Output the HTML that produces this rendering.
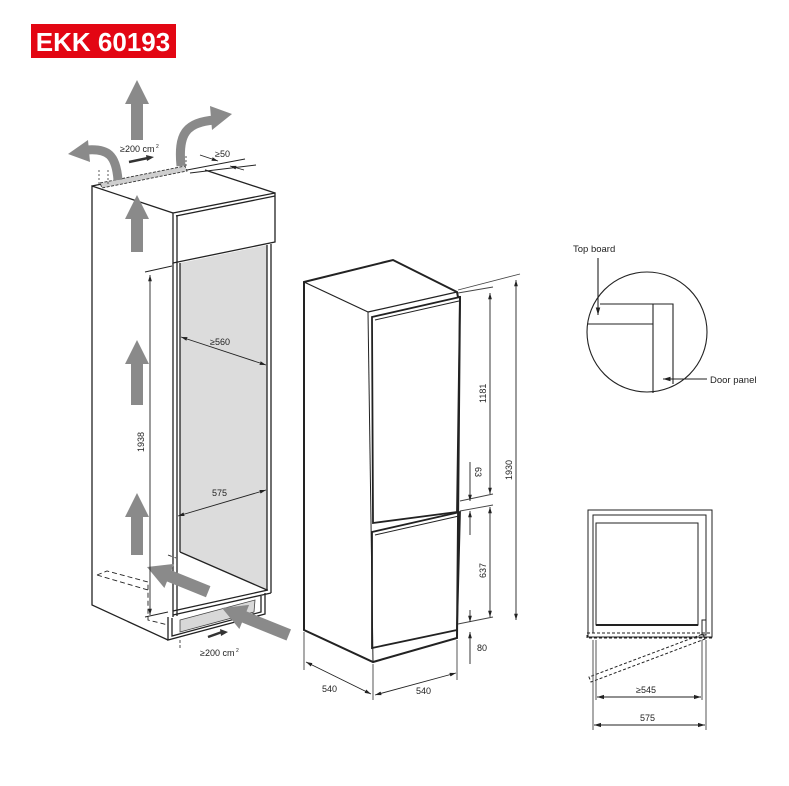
<!DOCTYPE html>
<html><head><meta charset="utf-8"><style>
html,body{margin:0;padding:0;background:#fff;}
svg{display:block;}
text{font-family:"Liberation Sans",sans-serif;}
</style></head><body>
<svg width="789" height="786" viewBox="0 0 789 786" xmlns="http://www.w3.org/2000/svg">
<defs>
<marker id="ah" viewBox="0 0 10 10" refX="10" refY="5" markerWidth="7" markerHeight="7" orient="auto-start-reverse"><path d="M0,2 L10,5 L0,8 z" fill="#222"/></marker>
</defs>
<rect x="31" y="24" width="145" height="34" fill="#e30613"/>
<text x="103" y="51" font-size="26" font-weight="bold" fill="#fff" text-anchor="middle">EKK 60193</text>

<g stroke="#222" stroke-width="1.3" fill="none">
<polygon points="180,263 267,245 267,590 180,552" fill="#dcdcdc" stroke="none"/>
<polyline points="173,213 92,186 92,605 168,640"/>
<polyline points="92,186 180,168"/>
<polyline points="205,170 275,193"/>
<polygon points="173,213 275,193 275,242 173,263" fill="#fff"/>
<line x1="177" y1="215" x2="177" y2="263"/>
<line x1="176" y1="216" x2="275" y2="196"/>
<line x1="173" y1="263" x2="173" y2="617"/>
<line x1="177" y1="263" x2="177" y2="616"/>
<line x1="180" y1="263" x2="180" y2="552"/>
<line x1="267" y1="245" x2="267" y2="590"/>
<line x1="271" y1="244" x2="271" y2="593"/>
<line x1="180" y1="552" x2="267" y2="590"/>
<line x1="173" y1="615" x2="271" y2="593"/>
<line x1="173" y1="611" x2="268" y2="590"/>
<polyline points="168,617 168,640 265,614 265,593"/>
<polyline points="172,618 172,636 261,612 261,596"/>
<polygon points="180,620 255,600 254,612 180,632" fill="#d8d8d8" stroke="#444" stroke-width="0.8"/>
<polyline points="97,575 107,571 148,582 148,620 168,625" stroke-dasharray="5,3" stroke-width="0.9"/>
<polyline points="97,575 148,590" stroke-dasharray="5,3" stroke-width="0.9"/>
<polyline points="168,555 176,558" stroke-dasharray="4,3" stroke-width="0.9"/>
<line x1="180" y1="640" x2="180" y2="650" stroke-dasharray="3,2" stroke-width="0.8"/>
<line x1="253" y1="613" x2="253" y2="623" stroke-dasharray="3,2" stroke-width="0.8"/>
</g>
<polygon points="100,183 185,166 187,171 102,188" fill="#cfcfcf" stroke="#333" stroke-width="0.9" stroke-dasharray="3,1.5"/>
<g stroke="#333" stroke-width="0.8" stroke-dasharray="2,2">
<line x1="99" y1="170" x2="99" y2="186"/><line x1="108" y1="170" x2="108" y2="185"/>
<line x1="178" y1="152" x2="178" y2="168"/><line x1="186" y1="156" x2="186" y2="168"/>
</g>
<g stroke="#222" stroke-width="0.9" fill="none">
<line x1="187" y1="170" x2="245" y2="159"/>
<line x1="190" y1="173" x2="256" y2="165"/>
<line x1="200" y1="155" x2="218" y2="161" marker-end="url(#ah)"/>
<line x1="244" y1="170" x2="230" y2="166" marker-end="url(#ah)"/>
</g>
<text x="215" y="157" font-size="9" fill="#222">≥50</text>
<text x="120" y="152" font-size="9" fill="#222">≥200 cm</text><text x="156" y="148" font-size="5" fill="#222">2</text>
<path d="M129,162 L148,158" stroke="#333" stroke-width="2.5"/><polygon points="146,155 154,157 147,161" fill="#333"/>
<text x="200" y="656" font-size="9" fill="#222">≥200 cm</text><text x="236" y="652" font-size="5" fill="#222">2</text>
<path d="M208,637 L222,632" stroke="#333" stroke-width="2.5"/><polygon points="220,629 228,632 221,636" fill="#333"/>

<g fill="#8a8a8a">
<polygon points="137,80 149,104 143,104 143,140 131,140 131,104 125,104"/>
<polygon points="137,195 149,219 143,219 143,252 131,252 131,219 125,219"/>
<polygon points="137,340 149,364 143,364 143,405 131,405 131,364 125,364"/>
<polygon points="137,493 149,517 143,517 143,555 131,555 131,517 125,517"/>
<polygon points="0,0 24,-13 24,-6 66,-6 66,6 24,6 24,13" transform="translate(147,567) rotate(22)"/>
<polygon points="0,0 24,-13 24,-6 72,-6 72,6 24,6 24,13" transform="translate(222,608) rotate(22)"/>
</g>
<g fill="none" stroke="#8a8a8a" stroke-width="9">
<path d="M118,180 C116,155 108,148 86,150"/>
<path d="M181,166 C178,135 185,122 215,120"/>
</g>
<polygon points="68,154 88,140 90,162" fill="#8a8a8a"/>
<polygon points="232,114 210,106 212,130" fill="#8a8a8a"/>

<g stroke="#222" stroke-width="0.9" fill="none">
<line x1="145" y1="272" x2="172" y2="266"/>
<line x1="145" y1="617" x2="168" y2="612"/>
<line x1="150" y1="275" x2="150" y2="615" marker-start="url(#ah)" marker-end="url(#ah)"/>
<line x1="181" y1="337" x2="266" y2="365" marker-start="url(#ah)" marker-end="url(#ah)"/>
<line x1="178" y1="516" x2="266" y2="490" marker-start="url(#ah)" marker-end="url(#ah)"/>
</g>
<text font-size="9" fill="#222" transform="translate(144,452) rotate(-90)">1938</text>
<text x="210" y="345" font-size="9" fill="#222">≥560</text>
<text x="212" y="496" font-size="9" fill="#222">575</text>

<g stroke="#222" fill="none">
<polygon points="304,282 393,260 457,292 458,297 460,297 457,638 373,662 304,630" fill="#fff" stroke-width="2"/>
<line x1="304" y1="282" x2="368" y2="312" stroke-width="1.2"/>
<line x1="368" y1="312" x2="457" y2="292" stroke-width="1.2"/>
<line x1="368" y1="312" x2="373" y2="662" stroke-width="1"/>
<polygon points="372,317 460,297 457,512 373,523" stroke-width="1.8"/>
<line x1="375" y1="320" x2="459" y2="301" stroke-width="1"/>
<polygon points="372,532 460,512 457,630 372,648" stroke-width="1.8"/>
<line x1="375" y1="535" x2="459" y2="516" stroke-width="1"/>
</g>
<g stroke="#444" stroke-width="0.9" fill="none">
<line x1="458" y1="293" x2="493" y2="287"/>
<line x1="458" y1="290" x2="520" y2="274"/>
<line x1="460" y1="501" x2="493" y2="494"/>
<line x1="460" y1="511" x2="493" y2="505"/>
<line x1="458" y1="624" x2="493" y2="617"/>
<line x1="304" y1="632" x2="304" y2="670"/>
<line x1="373" y1="664" x2="373" y2="700"/>
<line x1="457" y1="640" x2="457" y2="680"/>
</g>
<g stroke="#222" stroke-width="0.9" fill="none">
<line x1="490" y1="293" x2="490" y2="494" marker-start="url(#ah)" marker-end="url(#ah)"/>
<line x1="516" y1="280" x2="516" y2="620" marker-start="url(#ah)" marker-end="url(#ah)"/>
<line x1="490" y1="507" x2="490" y2="617" marker-start="url(#ah)" marker-end="url(#ah)"/>
<line x1="470" y1="462" x2="470" y2="501" marker-end="url(#ah)"/>
<line x1="470" y1="535" x2="470" y2="511" marker-end="url(#ah)"/>
<line x1="470" y1="610" x2="470" y2="622" marker-end="url(#ah)"/>
<line x1="470" y1="664" x2="470" y2="632" marker-end="url(#ah)"/>
<line x1="306" y1="662" x2="371" y2="694" marker-start="url(#ah)" marker-end="url(#ah)"/>
<line x1="375" y1="695" x2="456" y2="673" marker-start="url(#ah)" marker-end="url(#ah)"/>
</g>
<text font-size="9" fill="#222" transform="translate(486,403) rotate(-90)">1181</text>
<text font-size="9" fill="#222" transform="translate(512,480) rotate(-90)">1930</text>
<text font-size="9" fill="#222" transform="translate(475,467) rotate(90)">63</text>
<text font-size="9" fill="#222" transform="translate(486,578) rotate(-90)">637</text>
<text x="477" y="651" font-size="9" fill="#222">80</text>
<text x="322" y="692" font-size="9" fill="#222">540</text>
<text x="416" y="694" font-size="9" fill="#222">540</text>

<g stroke="#222" stroke-width="1.1" fill="none">
<circle cx="647" cy="332" r="60"/>
<polyline points="600,304 673,304 673,384"/>
<polyline points="587,324 653,324"/>
<line x1="653" y1="304" x2="653" y2="393"/>
<line x1="598" y1="258" x2="598" y2="315" marker-end="url(#ah)"/>
<line x1="707" y1="379" x2="663" y2="379" marker-end="url(#ah)"/>
</g>
<text x="573" y="252" font-size="9.5" fill="#222">Top board</text>
<text x="710" y="383" font-size="9.5" fill="#222">Door panel</text>

<g stroke="#222" stroke-width="1" fill="none">
<rect x="588" y="510" width="124" height="127"/>
<polyline points="593,633 593,515 706,515 706,633"/>
<rect x="596" y="523" width="102" height="102"/>
<line x1="596" y1="625" x2="698" y2="625" stroke-width="2"/>
<rect x="702" y="620" width="4" height="15"/>
<rect x="587" y="633" width="125" height="5" stroke-dasharray="3,2"/>
<polygon points="703,634 705,639 591,682 589,677" stroke-dasharray="3,2"/>
<line x1="596" y1="640" x2="596" y2="700" stroke="#555"/>
<line x1="702" y1="640" x2="702" y2="700" stroke="#555"/>
<line x1="593" y1="640" x2="593" y2="730" stroke="#555"/>
<line x1="706" y1="640" x2="706" y2="730" stroke="#555"/>
<line x1="597" y1="697" x2="701" y2="697" marker-start="url(#ah)" marker-end="url(#ah)"/>
<line x1="594" y1="725" x2="705" y2="725" marker-start="url(#ah)" marker-end="url(#ah)"/>
</g>
<text x="636" y="693" font-size="9" fill="#222">≥545</text>
<text x="640" y="721" font-size="9" fill="#222">575</text>
</svg>
</body></html>
